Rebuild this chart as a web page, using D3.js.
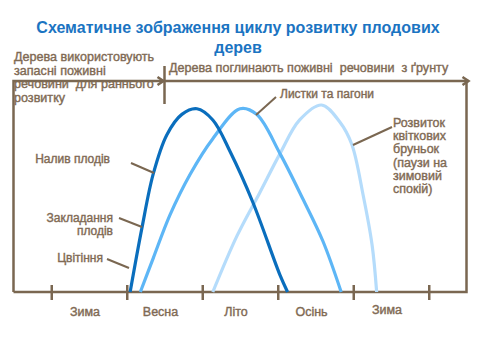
<!DOCTYPE html>
<html><head><meta charset="utf-8">
<script src="https://cdn.jsdelivr.net/npm/d3@7"></script>
<style>html,body{margin:0;padding:0;background:#fff;} svg{display:block;font-family:"Liberation Sans",Arial,sans-serif;}</style>
</head><body>
<script>
// ---- data ----
const titleLines = ["Схематичне зображення циклу розвитку плодових", "дерев"];
const seasons = ["Зима", "Весна", "Літо", "Осінь", "Зима"];
const boundaryTicks = [0, 1, 2, 3, 4, 5];
const leftNote = ["Дерева використовують", "запасні поживні", "речовини  для раннього", "розвитку"];
const rightNote = "Дерева поглинають поживні  речовини  з ґрунту";
const budNote = ["Розвиток", "квіткових", "бруньок", "(паузи на", "зимовий", "спокій)"];
// curves: [season position, development level 0-100]
const fruitCurve = [[1.045,0],[1.20,34],[1.35,63],[1.53,84],[1.73,95],[1.93,98],[2.14,92],[2.37,75],[2.67,48],[3.03,9],[3.13,0]];
const shootCurve = [[1.18,0],[1.35,18],[1.57,41],[1.84,63],[2.14,82],[2.50,98],[2.72,95],[3.03,74],[3.33,50],[3.60,27],[3.84,0]];
const budCurve = [[2.14,0],[2.46,30],[2.76,53],[3.03,74],[3.29,92],[3.58,100],[3.82,91],[3.98,79],[4.13,52],[4.25,25],[4.31,0]];
const fruitPhases = ["Налив плодів", ["Закладання", "плодів"], "Цвітіння"];

const W = 480, H = 360;
const svg = d3.select("body").append("svg").attr("width", W).attr("height", H);
svg.append("rect").attr("width", W).attr("height", H).attr("fill", "#fff");

const x = d3.scaleLinear().domain([-0.5, 5.5]).range([13.5, 466.5]);
const y = d3.scaleLinear().domain([0, 100]).range([292, 105]);

const textCol = "#7f6a54", lineCol = "#7a6751";
const titleCol = "#1b74c2";
const heavy = sel => sel.attr("fill", textCol).attr("stroke", textCol).attr("stroke-width", 0.4);

// title
svg.append("g").selectAll("text").data(titleLines).join("text")
  .attr("x", 238).attr("y", (d, i) => 33 + i * 20)
  .attr("text-anchor", "middle").attr("font-size", 16).attr("font-weight", "bold")
  .attr("fill", titleCol).text(d => d);

// frame
const frame = svg.append("g").attr("stroke", lineCol).attr("stroke-width", 2.5).attr("fill", "none");
const topY = 81, botY = y(0);
const xL = x(-0.5), xR = x(5.5), xMid = x(1.5);
frame.append("path").attr("d", `M${xL},${botY} L${xL},${topY} L${xMid - 1},${topY}`);
frame.append("path").attr("d", `M${xMid},${topY} L${xR + 2},${topY}`);
frame.append("path").attr("d", `M${xR},${topY} L${xR},${botY} L${xL},${botY}`);
[[xMid - 1, topY], [xR + 2, topY]].forEach(([ax, ay]) => {
  frame.append("path").attr("d", `M${ax - 6},${ay - 4} L${ax},${ay} L${ax - 6},${ay + 4}`);
});
frame.append("line").attr("x1", xMid).attr("x2", xMid).attr("y1", 66).attr("y2", 104);

// bottom axis ticks
const axis = d3.axisBottom(x).tickValues(boundaryTicks).tickSize(15).tickFormat("");
const ag = svg.append("g").attr("transform", `translate(0,${botY - 7})`).call(axis);
ag.select(".domain").remove();
ag.selectAll(".tick line").attr("stroke", lineCol).attr("stroke-width", 2.5);

// season labels
svg.append("g").selectAll("text").data(seasons).join("text")
  .attr("x", (d, i) => x(i + 0.5) - 4).attr("y", (d, i) => i === 4 ? 314 : 316)
  .attr("text-anchor", "middle").attr("font-size", 12.5)
  .call(heavy).text(d => d);

// curves
const line = d3.line().x(d => x(d[0])).y(d => y(d[1])).curve(d3.curveCatmullRom.alpha(0.5));
const curves = [
  {pts: budCurve, col: "#b5dcfb"},
  {pts: shootCurve, col: "#5db6f6"},
  {pts: fruitCurve, col: "#0a6ebd"}
];
svg.append("g").selectAll("path").data(curves).join("path")
  .attr("d", d => line(d.pts)).attr("fill", "none")
  .attr("stroke", d => d.col).attr("stroke-width", 3.2).attr("stroke-linecap", "butt");

// left notes
svg.append("g").selectAll("text").data(leftNote).join("text")
  .attr("x", 14).attr("y", (d, i) => 61 + i * 13.5)
  .attr("font-size", 12.6).call(heavy)
  .style("white-space", "pre").text(d => d);
svg.append("text").attr("x", 169).attr("y", 72)
  .attr("font-size", 12.6).call(heavy)
  .style("white-space", "pre").text(rightNote);

// leaders
const lead = svg.append("g").attr("stroke", lineCol).attr("stroke-width", 2);
const leaderLines = [[131,163,154,173],[119,218,142,227],[107,259,129,268],[256,115,276,97],[353,145,392,127]];
lead.selectAll("line").data(leaderLines).join("line")
  .attr("x1", d => d[0]).attr("y1", d => d[1]).attr("x2", d => d[2]).attr("y2", d => d[3]);

// phase labels
const lab = svg.append("g").attr("font-size", 12).call(heavy);
lab.append("text").attr("x", 110).attr("y", 163).attr("text-anchor", "end").text(fruitPhases[0]);
lab.append("text").attr("x", 113).attr("y", 222).attr("text-anchor", "end").text(fruitPhases[1][0]);
lab.append("text").attr("x", 113).attr("y", 235).attr("text-anchor", "end").text(fruitPhases[1][1]);
lab.append("text").attr("x", 103).attr("y", 262).attr("text-anchor", "end").text(fruitPhases[2]);
lab.append("text").attr("x", 280).attr("y", 98).text("Листки та пагони");
lab.selectAll(".bud").data(budNote).join("text").attr("class", "bud")
  .attr("x", 393).attr("y", (d, i) => 127 + i * 13.2).attr("font-size", 12.5).text(d => d);
</script>
</body></html>
